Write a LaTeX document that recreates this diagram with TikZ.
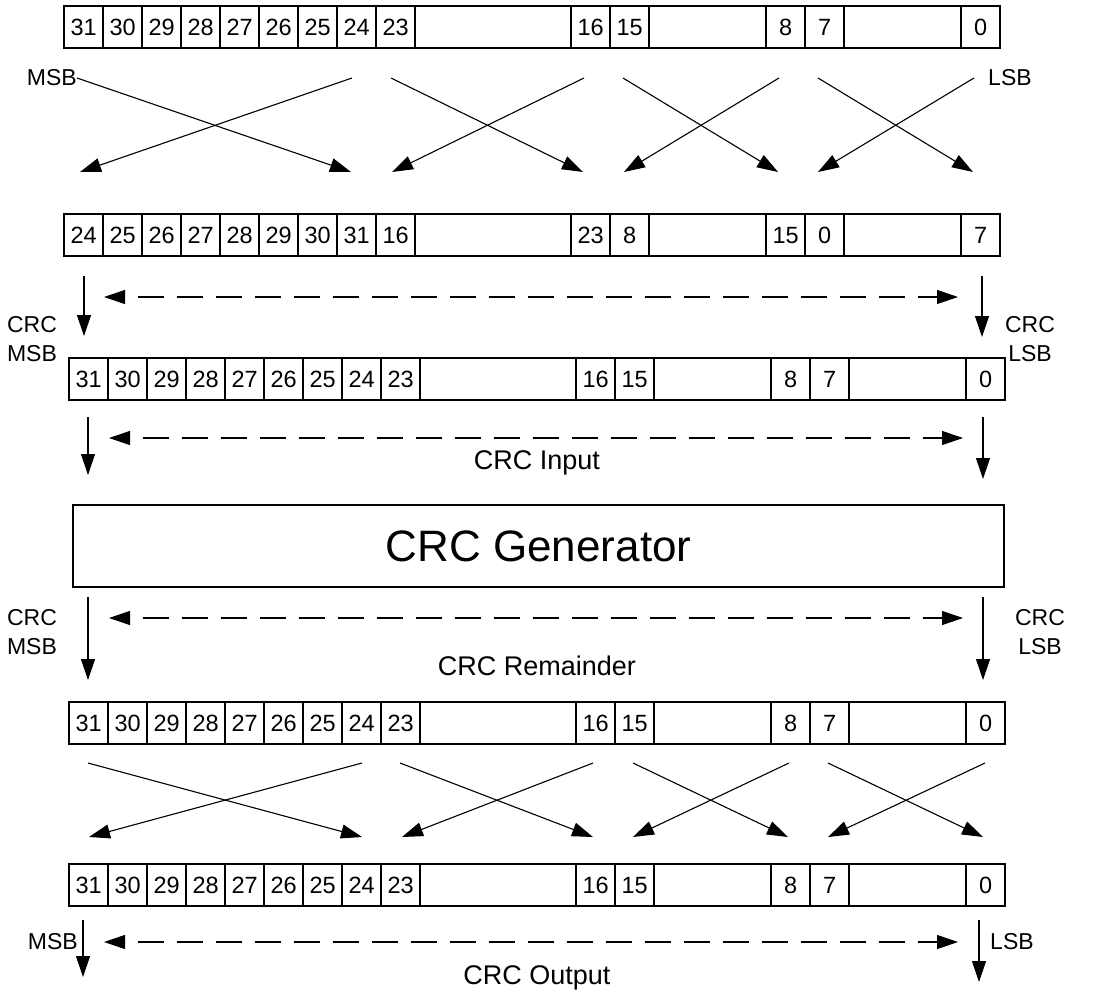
\documentclass[tikz,border=0pt]{standalone}
\usepackage{fontspec}
\setmainfont{Liberation Sans}
\usetikzlibrary{arrows.meta}
\newcommand\myreg[4]{\foreach \k/\w/\t [count=\i] in {#4}{\node[cell, minimum width=\w*39pt, anchor=north west] (#1-\i) at ({#2+\k*39},#3) {\t};}}
\begin{document}
\begin{tikzpicture}[x=1pt,y=-1pt,
  cell/.style={draw, line width=2.2pt, minimum height=42pt, inner sep=0pt, font=\fontsize{23.5}{27}\selectfont},
  arr/.style={line width=1.1pt, -{Triangle[length=21pt,width=14pt]}},
  darr/.style={line width=1.1pt, {Triangle[length=21pt,width=14pt]}-{Triangle[length=21pt,width=14pt]}, dash pattern=on 26pt off 13pt, dash phase=26pt},
  lbl/.style={font=\fontsize{23}{29}\selectfont, inner sep=0pt, align=center},
  big/.style={font=\fontsize{27}{32}\selectfont, inner sep=0pt},
]
\useasboundingbox (0,0) rectangle (1110,999);

% registers
\myreg{r1}{63}{5}{0/1/31,1/1/30,2/1/29,3/1/28,4/1/27,5/1/26,6/1/25,7/1/24,8/1/23,9/4/{},13/1/16,14/1/15,15/3/{},18/1/8,19/1/7,20/3/{},23/1/0}
\myreg{r2}{63}{213}{0/1/24,1/1/25,2/1/26,3/1/27,4/1/28,5/1/29,6/1/30,7/1/31,8/1/16,9/4/{},13/1/23,14/1/8,15/3/{},18/1/15,19/1/0,20/3/{},23/1/7}
\myreg{r3}{68}{357}{0/1/31,1/1/30,2/1/29,3/1/28,4/1/27,5/1/26,6/1/25,7/1/24,8/1/23,9/4/{},13/1/16,14/1/15,15/3/{},18/1/8,19/1/7,20/3/{},23/1/0}
\myreg{r4}{68}{701}{0/1/31,1/1/30,2/1/29,3/1/28,4/1/27,5/1/26,6/1/25,7/1/24,8/1/23,9/4/{},13/1/16,14/1/15,15/3/{},18/1/8,19/1/7,20/3/{},23/1/0}
\myreg{r5}{68}{863}{0/1/31,1/1/30,2/1/29,3/1/28,4/1/27,5/1/26,6/1/25,7/1/24,8/1/23,9/4/{},13/1/16,14/1/15,15/3/{},18/1/8,19/1/7,20/3/{},23/1/0}

% top crossing
\node[lbl, anchor=east] (msb1) at (77,78) {MSB};
\node[lbl, anchor=west] (lsb1) at (988,78) {LSB};
\coordinate (a1e) at (351,172);
\coordinate (b1s) at (352,78); \coordinate (b1e) at (80,172);
\coordinate (c1s) at (391,78); \coordinate (c1e) at (583,172);
\coordinate (d1s) at (584,78); \coordinate (d1e) at (392,172);
\coordinate (e1s) at (623,78); \coordinate (e1e) at (778,172);
\coordinate (f1s) at (779,78); \coordinate (f1e) at (624,172);
\coordinate (g1s) at (818,78); \coordinate (g1e) at (973,172);
\coordinate (h1s) at (974,78); \coordinate (h1e) at (818,172);
\draw[arr] (msb1.east) -- (a1e);
\foreach \p in {b1,c1,d1,e1,f1,g1,h1} \draw[arr] (\p s) -- (\p e);

% set 1
\coordinate (v1ls) at (84,276); \coordinate (v1le) at (84,336);
\coordinate (v1rs) at (982,276); \coordinate (v1re) at (982,337);
\coordinate (d1l) at (104,297); \coordinate (d1r) at (958,297);
\draw[arr] (v1ls) -- (v1le);
\draw[arr] (v1rs) -- (v1re);
\draw[darr] (d1l) -- (d1r);
\node[lbl] (crcmsb1) at (32,339) {CRC\\MSB};
\node[lbl] (crclsb1) at (1030,339) {CRC\\LSB};

% set 2
\coordinate (v2ls) at (88,417); \coordinate (v2le) at (88,475);
\coordinate (v2rs) at (983,417); \coordinate (v2re) at (983,479);
\coordinate (d2l) at (109,438); \coordinate (d2r) at (963,438);
\draw[arr] (v2ls) -- (v2le);
\draw[arr] (v2rs) -- (v2re);
\draw[darr] (d2l) -- (d2r);
\node[big] (inlbl) at (537,463) {CRC Input};

% generator
\node[draw, line width=2.2pt, minimum width=931pt, minimum height=82pt, anchor=north west, inner sep=0pt, font=\fontsize{44}{50}\selectfont] (gen) at (72,504) {CRC Generator};

% set 3
\coordinate (v3ls) at (88,597); \coordinate (v3le) at (88,680);
\coordinate (v3rs) at (983,597); \coordinate (v3re) at (983,680);
\coordinate (d3l) at (109,618); \coordinate (d3r) at (963,618);
\draw[arr] (v3ls) -- (v3le);
\draw[arr] (v3rs) -- (v3re);
\draw[darr] (d3l) -- (d3r);
\node[lbl] (crcmsb3) at (32,632) {CRC\\MSB};
\node[lbl] (crclsb3) at (1040,632) {CRC\\LSB};
\node[big] (remlbl) at (537,666) {CRC Remainder};

% bottom crossing
\coordinate (a2s) at (88,763); \coordinate (a2e) at (362,837);
\coordinate (b2s) at (362,763); \coordinate (b2e) at (89,837);
\coordinate (c2s) at (400,763); \coordinate (c2e) at (593,837);
\coordinate (d2s) at (593,763); \coordinate (d2e) at (402,837);
\coordinate (e2s) at (633,763); \coordinate (e2e) at (788,837);
\coordinate (f2s) at (789,763); \coordinate (f2e) at (633,837);
\coordinate (g2s) at (828,763); \coordinate (g2e) at (983,837);
\coordinate (h2s) at (985,763); \coordinate (h2e) at (828,837);
\foreach \p in {a2,b2,c2,d2,e2,f2,g2,h2} \draw[arr] (\p s) -- (\p e);

% set 4
\coordinate (v4ls) at (83,920); \coordinate (v4le) at (83,977);
\coordinate (v4rs) at (979,920); \coordinate (v4re) at (979,982);
\coordinate (d4l) at (104,942); \coordinate (d4r) at (958,942);
\draw[arr] (v4ls) -- (v4le);
\draw[arr] (v4rs) -- (v4re);
\draw[darr] (d4l) -- (d4r);
\node[lbl, anchor=east] (msb4) at (78,942) {MSB};
\node[lbl, anchor=west] (lsb4) at (990,942) {LSB};
\node[big] (outlbl) at (537,978) {CRC Output};
\end{tikzpicture}
\end{document}
